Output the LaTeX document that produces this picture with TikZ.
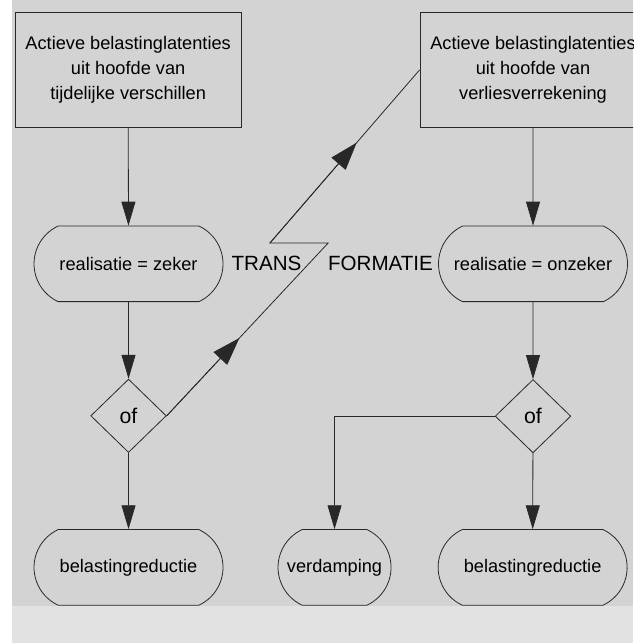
\documentclass[tikz,border=0pt]{standalone}
\usepackage{fontspec}
\setmainfont{Liberation Sans}
\usetikzlibrary{positioning,calc}
\usetikzlibrary{arrows.meta,shapes.geometric,shapes.misc}
\definecolor{ScanGray}{RGB}{211,211,211}
\definecolor{ScanLight}{RGB}{226,226,226}
\definecolor{InkGray}{RGB}{40,40,40}
\tikzset{srcbox/.style={rectangle,draw=InkGray,line width=0.6pt,minimum width=5.98cm,minimum height=3.02cm,align=center,inner sep=0pt,font=\fontsize{13.7}{18.75}\selectfont}, pill/.style={rounded rectangle,rounded rectangle arc length=130,draw=InkGray,line width=0.6pt,minimum height=2cm,inner sep=0pt,font=\fontsize{13.7}{16}\selectfont}, keuze/.style={diamond,aspect=1,draw=InkGray,line width=0.6pt,minimum width=2cm,minimum height=1.94cm,inner sep=0pt,font=\fontsize{16}{18}\selectfont}, flow/.style={draw=InkGray,line width=0.6pt,-{Triangle[length=18pt,width=10.5pt]}}, zig/.style={draw=InkGray,line width=0.6pt,-{Triangle[length=21pt,width=14pt]}}, trans/.style={inner sep=0pt,font=\fontsize{15.5}{18}\selectfont}}

\begin{document}
\begin{tikzpicture}
\useasboundingbox (0,0) rectangle (16.75,17.01);
\clip (0,0) rectangle (16.75,17.01);
\fill[white] (0,0) rectangle (16.75,17.01);
\fill[ScanGray] (0.32,0.98) rectangle (16.75,17.01);
\fill[ScanLight] (0.32,0) rectangle (16.75,0.98);
\coordinate (zA) at (8.68,10.58);
\coordinate (zB) at (7.14,10.58);
\node[srcbox] (lb) at (3.39,15.16) {Actieve belastinglatenties\\uit hoofde van\\tijdelijke verschillen};
\node[srcbox] (rb) at (14.10,15.16) {Actieve belastinglatenties\\uit hoofde van\\verliesverrekening};
\node[pill,minimum width=5cm] (lz) at (3.40,10.03) {realisatie = zeker};
\node[pill,minimum width=5cm] (rz) at (14.10,10.03) {realisatie = onzeker};
\node[trans,right=0.21cm of lz] (tr) {TRANS};
\node[trans,left=0.13cm of rz] (fo) {FORMATIE};
\node[keuze] (dl) at (3.40,6.01) {of};
\node[keuze] (dr) at (14.10,6.0) {of};
\node[pill,minimum width=5cm] (lbr) at (3.40,2.0) {belastingreductie};
\node[pill,minimum width=2.99cm] (verd) at (8.85,2.0) {verdamping};
\node[pill,minimum width=5cm] (rbr) at (14.09,2.0) {belastingreductie};
\draw[flow] (lb) -- (lz);
\draw[flow] (lz) -- (dl);
\draw[flow] (dl) -- (lbr);
\draw[flow] (rb) -- (rz);
\draw[flow] (rz) -- (dr);
\draw[flow] (dr) -- (rbr);
\draw[flow] (dr.west) -| (verd.north);
% omvorming naar verliesverrekening
\draw[draw=InkGray,line width=0.6pt] (dl.east) -- (zA) -- (zB) -- (rb.west);
\draw[zig] (dl.east) -- ($(dl.east)!0.45!(zA)$);
\draw[zig] (zB) -- ($(zB)!0.58!(rb.west)$);
\end{tikzpicture}
\end{document}
